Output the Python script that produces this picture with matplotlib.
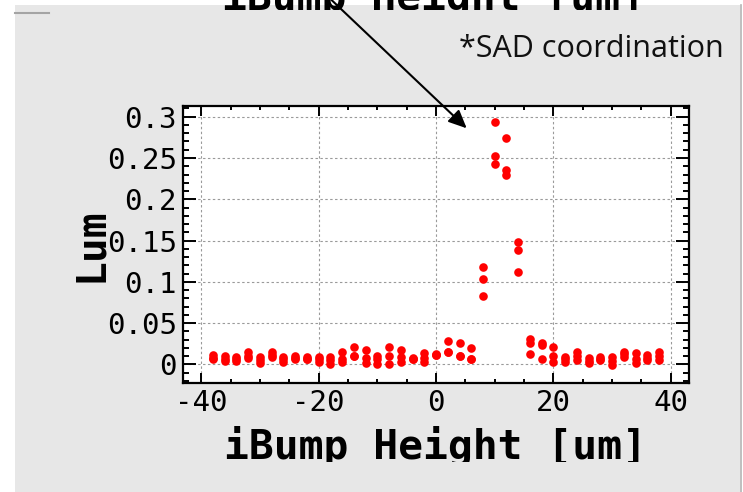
import matplotlib
matplotlib.use("Agg")
import matplotlib.pyplot as plt
from matplotlib.patches import Rectangle
from matplotlib.lines import Line2D
from matplotlib.ticker import MultipleLocator, FuncFormatter
from matplotlib.transforms import Bbox

# ── Data: bump height scan, three readings per position ──────────────────────

height_um = [-38, -36, -34, -32, -30, -28, -26, -24, -22, -20,
             -18, -16, -14, -12, -10, -8, -6, -4, -2, 0,
             2, 4, 6, 8, 10, 12, 14, 16, 18, 20,
             22, 24, 26, 28, 30, 32, 34, 36, 38]

lum_run1 = [0.011, 0.010, 0.0085, 0.0146, 0.0085, 0.0146, 0.0085, 0.0105, 0.0085, 0.0085,
            0.0085, 0.015, 0.0215, 0.0174, 0.0105, 0.0215, 0.0174, 0.0073, 0.0134, 0.0126,
            0.0288, 0.0263, 0.0194, 0.1175, 0.294, 0.2738, 0.1478, 0.0304, 0.0263, 0.0215,
            0.0093, 0.0154, 0.0073, 0.0093, 0.0085, 0.0154, 0.0134, 0.0113, 0.0154]

lum_run2 = [0.008, 0.007, 0.0065, 0.010, 0.005, 0.011, 0.006, 0.008, 0.007, 0.006,
            0.005, 0.006, 0.010, 0.0073, 0.006, 0.010, 0.0093, 0.0065, 0.008, 0.011,
            0.0154, 0.0105, 0.0065, 0.1037, 0.2523, 0.235, 0.1389, 0.0263, 0.0235, 0.0101,
            0.006, 0.010, 0.004, 0.007, 0.004, 0.012, 0.007, 0.008, 0.010]

lum_run3 = [0.006, 0.0045, 0.0045, 0.0073, 0.0012, 0.0085, 0.003, 0.006, 0.006, 0.003,
            0.001, 0.003, 0.010, 0.002, 0.001, 0.001, 0.003, 0.0065, 0.003, 0.011,
            0.0154, 0.0105, 0.0065, 0.0822, 0.2422, 0.2295, 0.1114, 0.0126, 0.0061, 0.0032,
            0.0032, 0.0053, 0.0012, 0.0053, -0.0008, 0.0093, 0.0012, 0.0053, 0.0053]

X_LABEL = "iBump Height [um]"
Y_LABEL = "Lum"
NOTE = "*SAD coordination"

W, H = 743, 492
BG_GRAY = "#e7e7e7"

plt.rcParams["font.family"] = ["DejaVu Sans Mono"]
plt.rcParams["axes.unicode_minus"] = False


def px(x, y):
    """pixel position (top-left origin) -> figure fraction"""
    return x / W, 1 - y / H


def gray_box(xa, ya, xb, yb, zorder):
    x0, y0 = px(xa, yb)
    x1, y1 = px(xb, ya)
    fig.add_artist(Rectangle((x0, y0), x1 - x0, y1 - y0, transform=fig.transFigure,
                             facecolor=BG_GRAY, edgecolor="none", zorder=zorder))


fig = plt.figure(figsize=(W / 100, H / 100), dpi=100, facecolor="white")

# slide background behind the figure
gray_box(15, 5, 740, H, -10)
fig.add_artist(Line2D([740.5 / W, 740.5 / W], [0, 1 - 5 / H], transform=fig.transFigure,
                      color="#b4b4b4", lw=1.2, zorder=-9))
fig.add_artist(Line2D([15 / W, 49 / W], [1 - 12.5 / H, 1 - 12.5 / H], transform=fig.transFigure,
                      color="#a4a4a4", lw=1.5, zorder=-9))

# ── Axes ─────────────────────────────────────────────────────────────────────
left, top = px(182.5, 106)
right, bottom = px(689, 382.5)
ax = fig.add_axes([left, bottom, right - left, top - bottom])
ax.set_facecolor("white")

for runs in (lum_run1, lum_run2, lum_run3):
    ax.plot(height_um, runs, linestyle="none", marker="o", markersize=6.2,
            color="#ff0000", markeredgewidth=0, zorder=3)

ax.set_xlim(-43.2, 43.1)
ax.set_ylim(-0.022, 0.313)
ax.xaxis.set_major_locator(MultipleLocator(20))
ax.xaxis.set_minor_locator(MultipleLocator(5))
ax.yaxis.set_major_locator(MultipleLocator(0.05))
ax.yaxis.set_minor_locator(MultipleLocator(0.01))
ax.yaxis.set_major_formatter(FuncFormatter(lambda v, _: f"{v:g}"))

ax.grid(True, which="major", color="#9a9a9a", linestyle=(0, (2.2, 2.2)), linewidth=0.8)
ax.set_axisbelow(True)

for sp in ax.spines.values():
    sp.set_linewidth(1.6)

ax.tick_params(which="both", direction="in", top=True, right=True, width=1.4,
               labelsize=21, pad=4)
ax.tick_params(axis="x", which="major", length=7.2, pad=5)
ax.tick_params(axis="x", which="minor", length=3)
ax.tick_params(axis="y", which="major", length=9.5)
ax.tick_params(axis="y", which="minor", length=4.5)

ax.set_xlabel(X_LABEL, fontsize=29.8, fontweight="bold", labelpad=6)
ax.set_ylabel(Y_LABEL, fontsize=29.8, fontweight="bold", labelpad=-2)

# the bottom of the slide crop hides the label below its baseline
gray_box(15, 462, 740, H, 5)

# repeated heading at the very top, mostly cropped away
tx, ty = px(433, 10)
head = fig.text(tx, ty, X_LABEL, fontsize=29.8, fontweight="bold",
                ha="center", va="baseline")
head.set_clip_box(Bbox.from_extents(0, H - 10, W, H))
head.set_clip_on(True)

# note and pointer to the peak
nx_, ny_ = px(724, 57)
fig.text(nx_, ny_, NOTE, fontsize=22, family=["Open Sans", "DejaVu Sans"],
         color="#111111", ha="right", va="baseline")

ax.annotate("", xy=(466.7, H - 128.3), xycoords="figure pixels",
            xytext=(321, H + 10), textcoords="figure pixels",
            annotation_clip=False,
            arrowprops=dict(arrowstyle="-|>,head_length=0.55,head_width=0.25",
                            mutation_scale=20, lw=1.5, color="black",
                            shrinkA=0, shrinkB=0))

fig.savefig("out.png", dpi=100, facecolor="white")
